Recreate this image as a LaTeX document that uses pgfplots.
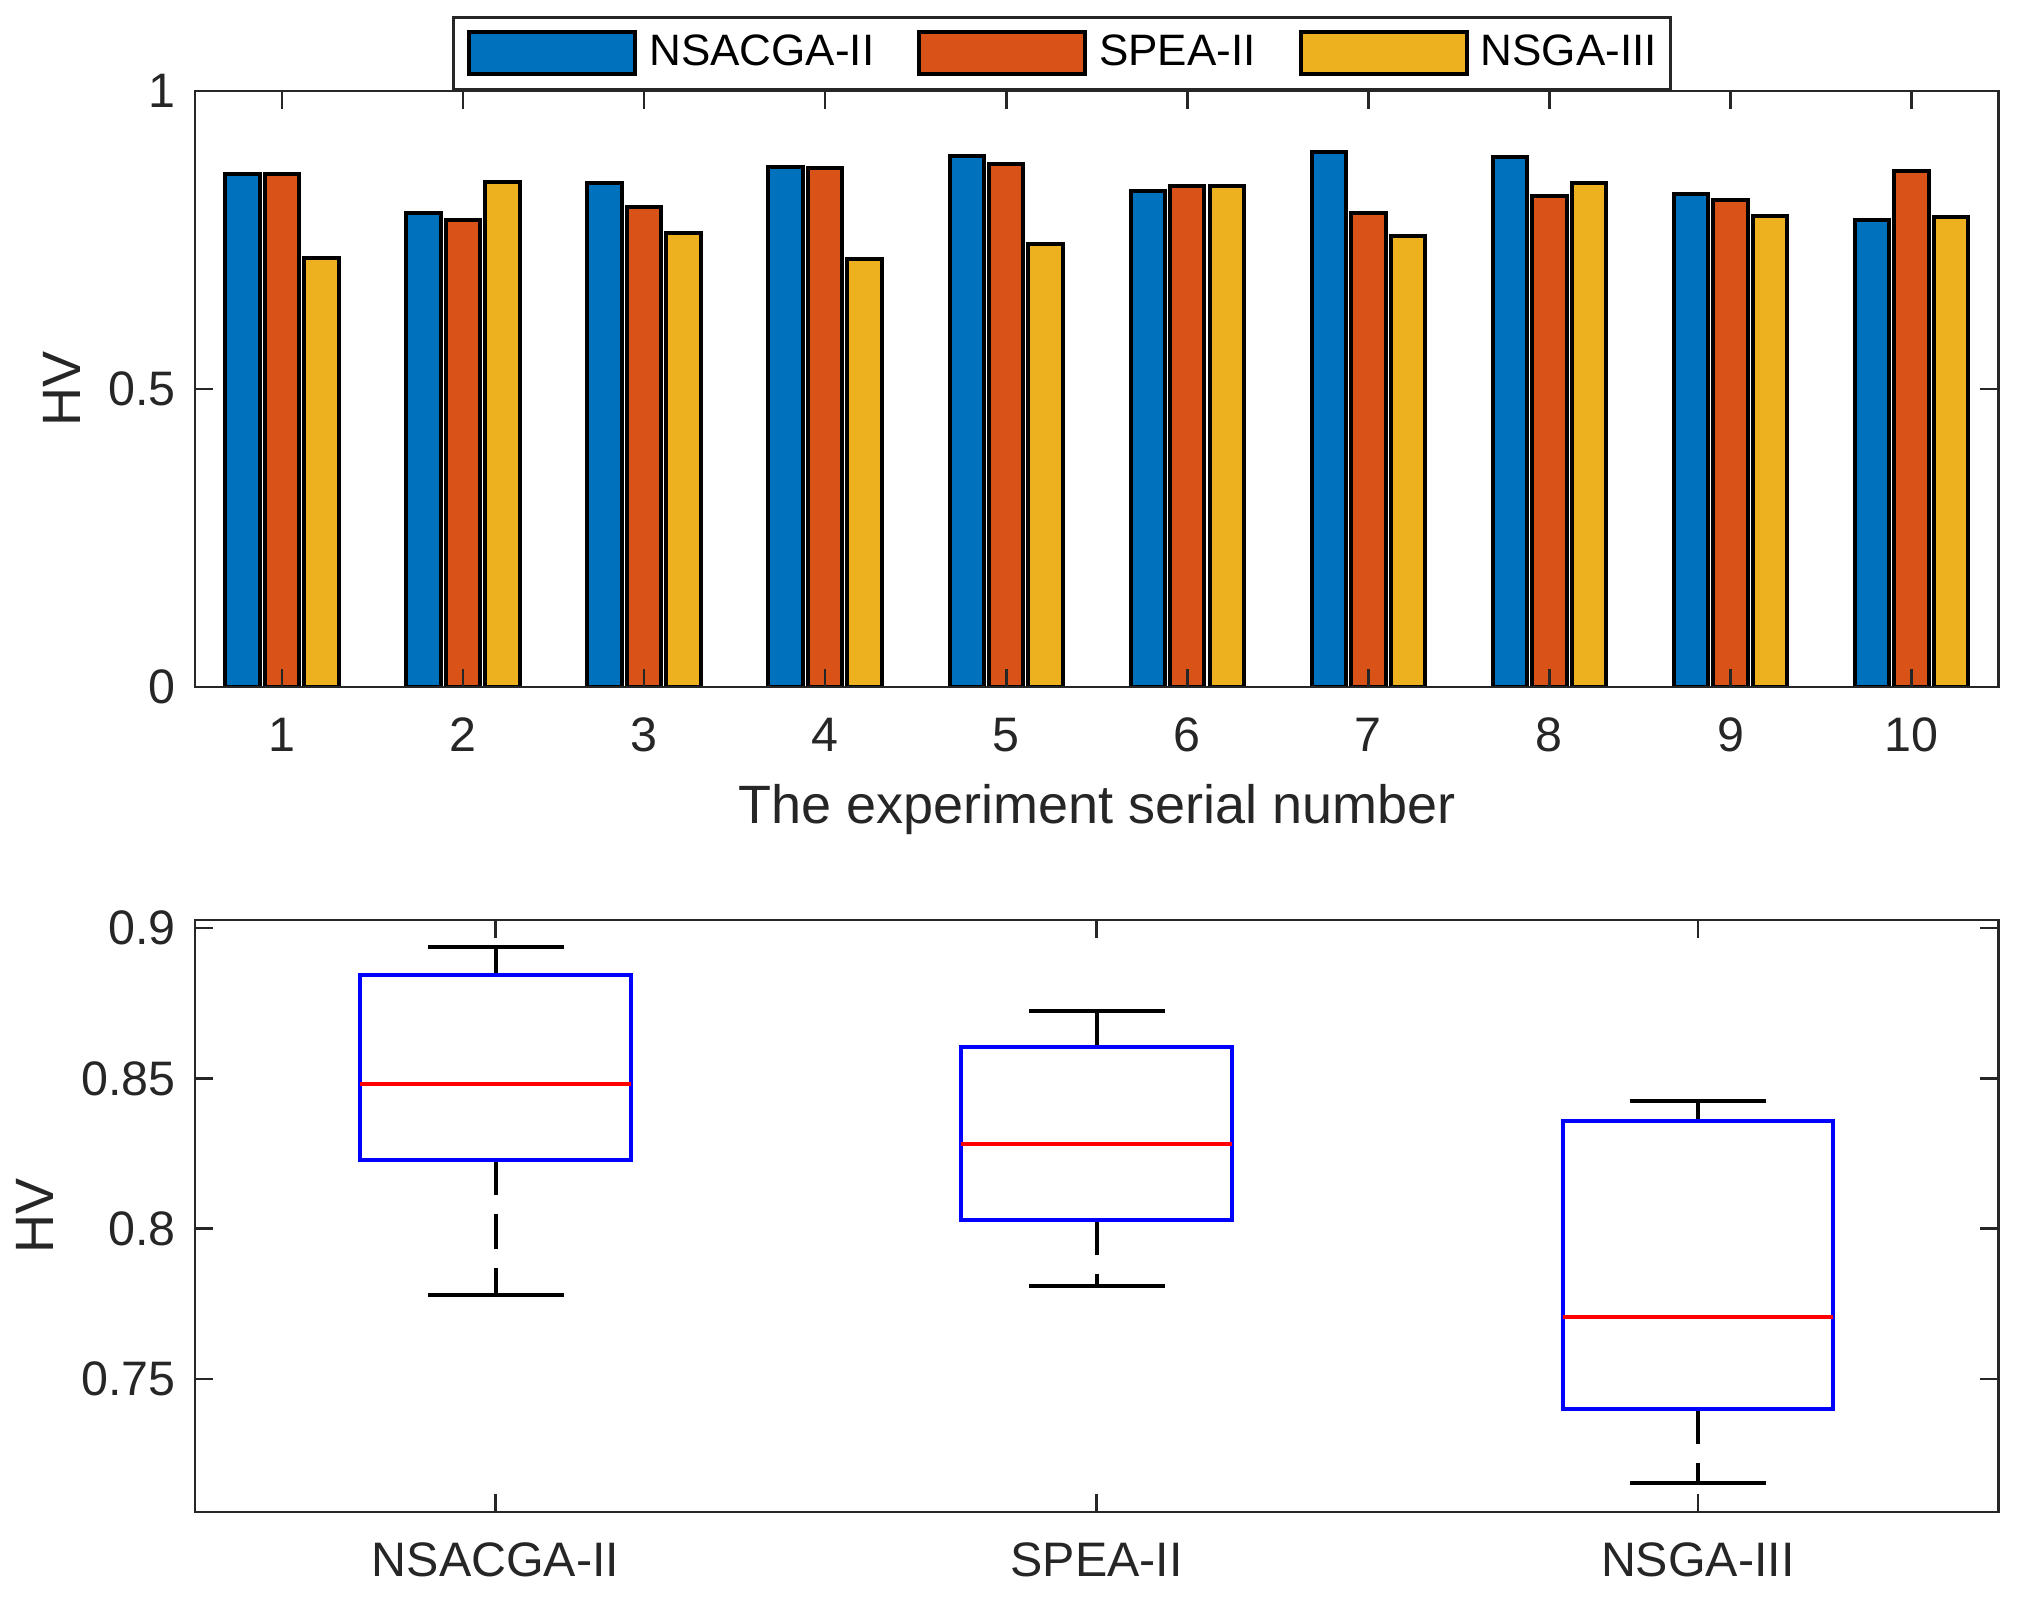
\documentclass[border=0pt]{standalone}
\usepackage{fontspec}
\setmainfont{Liberation Sans}
\usepackage{pgfplots}
\pgfplotsset{compat=1.18}
\usepgfplotslibrary{statistics}

\definecolor{mblue}{HTML}{0072BD}
\definecolor{mred}{HTML}{D95319}
\definecolor{myellow}{HTML}{EDB120}
\definecolor{axgray}{HTML}{262626}

\pgfplotsset{
  mybar legend/.style={legend image code/.code={\draw[##1] (0pt,-5.25pt) rectangle (41.5pt,5.25pt);}},
  matlab/.style={
    scale only axis,
    width=450.85pt,
    axis on top,
    tick align=inside,
    major tick length=4.6pt,
    axis line style={axgray, line width=0.67pt},
    every tick/.style={axgray, line width=0.67pt},
    tick label style={font=\fontsize{12.1}{14}\selectfont, text=axgray},
    xticklabel style={yshift=-4.2pt},
    yticklabel style={xshift=-1.3pt},
    xlabel style={yshift=-1.3pt},
    label style={font=\fontsize{13.5}{16}\selectfont, text=axgray},
    /pgf/number format/assume math mode=true,
  },
  hvbar/.style={ybar, bar width=0.19, draw=black, line width=1pt, mybar legend},
}

\begin{document}
\begin{tikzpicture}
% upper panel: HV of each run
\begin{axis}[matlab,
  name=top, at={(0,0)}, anchor=south west,
  height=149pt,
  xmin=0.52, xmax=10.48, ymin=0, ymax=1,
  xtick={1,...,10}, ytick={0,0.5,1},
  yticklabels={0,0.5,1},
  xlabel={The experiment serial number},
  ylabel={HV},
  legend columns=3,
  legend cell align=left,
  legend style={at={(0.1425,1)}, anchor=south west,
    draw=axgray, line width=0.67pt, fill=white,
    font=\fontsize{11}{13}\selectfont,
    inner xsep=3.5pt, inner ysep=3.3pt,
    nodes={inner sep=0pt},
    /tikz/every odd column/.append style={column sep=3pt},
    /tikz/every even column/.append style={column sep=10.75pt}},
]
\addplot[hvbar, fill=mblue, bar shift=-0.218] coordinates {
  (1,0.860) (2,0.796) (3,0.845) (4,0.872) (5,0.891)
  (6,0.832) (7,0.898) (8,0.889) (9,0.828) (10,0.783)};
\addplot[hvbar, fill=mred, bar shift=0] coordinates {
  (1,0.860) (2,0.784) (3,0.806) (4,0.871) (5,0.877)
  (6,0.840) (7,0.796) (8,0.823) (9,0.817) (10,0.866)};
\addplot[hvbar, fill=myellow, bar shift=0.218] coordinates {
  (1,0.719) (2,0.847) (3,0.761) (4,0.718) (5,0.744)
  (6,0.840) (7,0.756) (8,0.845) (9,0.790) (10,0.788)};
\legend{NSACGA-II, SPEA-II, NSGA-III}
\end{axis}

% lower panel: boxplots
\begin{axis}[matlab,
  name=bot, at={(0,-206.25pt)}, anchor=south west,
  height=148pt,
  xmin=0.5, xmax=3.5, ymin=0.7058, ymax=0.9027,
  xtick={1,2,3}, xticklabels={NSACGA-II, SPEA-II, NSGA-III},
  ytick={0.75,0.8,0.85,0.9},
  yticklabels={0.75,0.8,0.85,0.9},
  ylabel={HV},
  boxplot/draw direction=y,
  boxplot/box extend=0.45,
  boxplot/whisker extend=0,
  boxplot/every box/.style={draw=blue, line width=1pt},
  boxplot/every median/.style={draw=red, line width=1pt},
  boxplot/every whisker/.style={draw=black, line width=1pt, dash pattern=on 8.75pt off 4.75pt},
]
\addplot[draw=blue, boxplot prepared={draw position=1, draw direction=y,
  lower whisker=0.778, lower quartile=0.8228, median=0.8481,
  upper quartile=0.8845, upper whisker=0.8936}] coordinates {};
\addplot[draw=blue, boxplot prepared={draw position=2, draw direction=y,
  lower whisker=0.7809, lower quartile=0.8028, median=0.8281,
  upper quartile=0.8605, upper whisker=0.8726}] coordinates {};
\addplot[draw=blue, boxplot prepared={draw position=3, draw direction=y,
  lower whisker=0.7154, lower quartile=0.7399, median=0.7705,
  upper quartile=0.8360, upper whisker=0.8425}] coordinates {};
% whisker caps
\addplot[only marks, mark=-, mark size=17pt, black, mark options={line width=1pt, solid}] coordinates {
  (1,0.8936) (1,0.778) (2,0.8726) (2,0.7809) (3,0.8425) (3,0.7154)};
\end{axis}

\path (-48.75pt,-229.25pt) rectangle (458.75pt,171.75pt);
\end{tikzpicture}
\end{document}
